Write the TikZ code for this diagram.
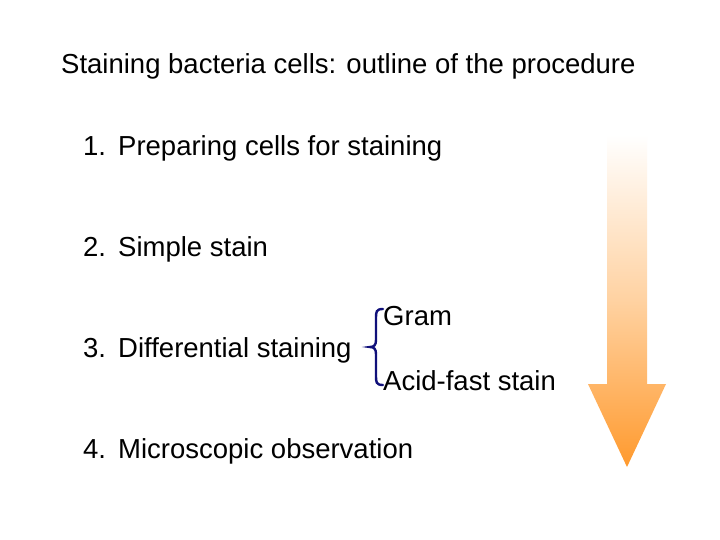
\documentclass[tikz,border=0pt]{standalone}
\usepackage{fontspec}
\setmainfont{Liberation Sans}
\definecolor{arroworange}{HTML}{FF9A2E}
\definecolor{bracenavy}{HTML}{10107A}
\newcommand{\numlab}[1]{\makebox[35pt][l]{#1}}
\begin{document}
\begin{tikzpicture}[x=1pt,y=-1pt]
\tikzset{item/.style={anchor=base west,inner sep=0pt,font=\fontsize{27.5}{30}\selectfont}}
\useasboundingbox (0,0) rectangle (720,540);
\fill[white] (0,0) rectangle (720,540);
\shade[top color=white,bottom color=arroworange,middle color=arroworange!45]
  (607,135) -- (647,135) -- (647,384) -- (666,384) -- (627,467) -- (588,384) -- (607,384) -- cycle;
\node[item] (title) at (61,74) {Staining bacteria cells: outline of the procedure};
\node[item] (i1) at (83,156) {\numlab{1.}Preparing cells for staining};
\node[item] (i2) at (83,256) {\numlab{2.}Simple stain};
\node[item] (i3) at (83,357) {\numlab{3.}Differential staining};
\node[item] (gram) at (383,325) {Gram};
\node[item] (acid) at (383,390) {Acid-fast stain};
\node[item] (i4) at (83,458) {\numlab{4.}Microscopic observation};
\draw[bracenavy,line width=2.4pt,line cap=round]
  (383,309) .. controls (376,309) and (376,312) .. (376,318) -- (376,340)
  .. controls (376,345) and (374,347) .. (370,347)
  .. controls (374,347) and (376,349) .. (376,354) -- (376,376)
  .. controls (376,382) and (376,385) .. (383,385);
\end{tikzpicture}
\end{document}
